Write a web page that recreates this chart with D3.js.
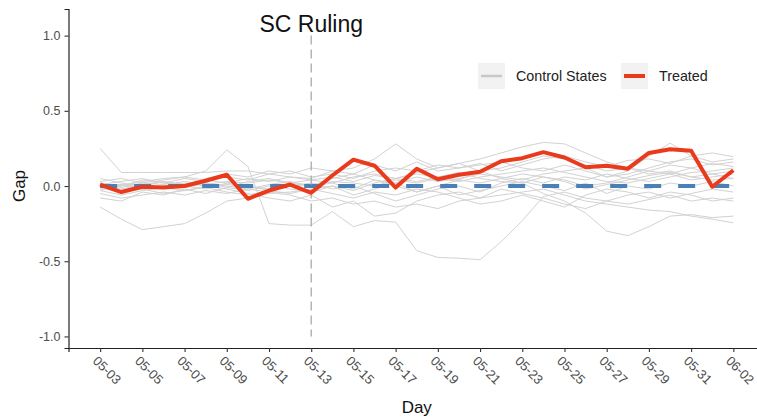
<!DOCTYPE html>
<html><head><meta charset="utf-8">
<script src="https://cdn.jsdelivr.net/npm/d3@7"></script>
<style>body{margin:0;background:#fff}svg{display:block;font-family:"Liberation Sans",Arial,Helvetica,sans-serif}</style>
</head><body>
<svg id="c" width="757" height="418"></svg>
<script>
const days = ["05-03","05-04","05-05","05-06","05-07","05-08","05-09","05-10","05-11","05-12","05-13","05-14","05-15","05-16","05-17","05-18","05-19","05-20","05-21","05-22","05-23","05-24","05-25","05-26","05-27","05-28","05-29","05-30","05-31","06-01","06-02"];
const xTickLabels = ["05-03","05-05","05-07","05-09","05-11","05-13","05-15","05-17","05-19","05-21","05-23","05-25","05-27","05-29","05-31","06-02"];
const yTicks = [-1.0,-0.5,0.0,0.5,1.0];
const rulingDay = "05-13";
const treated = [0.01,-0.04,-0.005,-0.01,0.0,0.035,0.075,-0.085,-0.03,0.01,-0.045,0.07,0.175,0.135,-0.01,0.115,0.045,0.075,0.095,0.165,0.185,0.225,0.19,0.125,0.135,0.115,0.22,0.245,0.235,-0.005,0.105];
const controlA = [-0.14,-0.22,-0.29,-0.27,-0.25,-0.18,-0.1,-0.08,-0.05,-0.04,-0.02,0.0,-0.03,0.02,0.05,0.03,0.06,0.04,0.02,0.05,0.08,0.06,0.03,-0.02,0.01,0.04,0.07,0.09,0.06,0.04,0.05];
const controlB = [-0.02,0.0,0.03,0.05,0.06,0.1,0.24,0.13,-0.25,-0.26,-0.26,-0.17,-0.27,-0.23,-0.24,-0.43,-0.475,-0.48,-0.49,-0.37,-0.23,-0.07,-0.04,-0.08,-0.1,-0.12,-0.09,-0.06,-0.1,-0.08,-0.1];
const controlC = [0.25,0.09,0.09,0.09,0.09,0.09,0.1,0.1,0.08,0.1,0.06,0.08,0.05,0.1,0.12,0.1,0.14,0.12,0.15,0.1,0.14,0.18,0.2,0.16,0.13,0.17,0.18,0.15,0.2,0.16,0.18];
const controlD = [0.0,-0.02,0.01,0.03,0.0,0.02,-0.01,0.03,0.05,0.02,0.04,0.06,0.03,0.07,0.05,0.08,0.06,0.09,0.05,0.03,0.02,-0.05,-0.1,-0.18,-0.3,-0.33,-0.27,-0.2,-0.19,-0.21,-0.2];
const controlE = [-0.05,-0.08,-0.06,-0.04,-0.06,-0.03,-0.05,-0.02,-0.04,-0.06,-0.1,-0.08,-0.12,-0.1,-0.14,-0.12,-0.15,-0.1,-0.08,-0.06,-0.04,-0.02,-0.06,-0.1,-0.12,-0.14,-0.16,-0.17,-0.2,-0.22,-0.245];
const controlF = [0.02,0.0,0.04,0.02,0.05,0.03,0.06,0.04,0.08,0.06,0.05,0.1,0.12,0.18,0.28,0.18,0.12,0.15,0.1,0.12,0.16,0.2,0.18,0.14,0.1,0.12,0.08,0.1,0.06,0.08,0.05];
const controlG = [0.03,0.05,0.02,0.04,0.06,0.04,0.02,0.05,0.03,0.06,0.04,0.02,0.06,0.08,0.05,0.09,0.12,0.15,0.18,0.22,0.26,0.29,0.28,0.22,0.16,0.12,0.1,0.14,0.12,0.15,0.13];
const controlH = [-0.03,0.01,-0.02,0.0,-0.01,0.02,0.0,-0.02,0.01,0.03,0.0,0.02,-0.02,0.04,0.02,0.06,0.03,0.05,0.08,0.06,0.04,0.08,0.1,0.12,0.06,0.1,0.2,0.285,0.2,0.22,0.195];
const controlI = [0.01,0.03,0.05,0.02,0.0,-0.02,0.02,0.0,-0.03,0.0,0.02,-0.02,0.0,-0.05,-0.1,-0.06,-0.02,0.0,-0.04,0.02,0.05,0.02,0.06,0.04,0.08,0.05,0.03,0.06,0.09,0.1,0.12];
const controlJ = [-0.01,-0.04,-0.02,-0.05,-0.03,0.0,-0.02,-0.05,-0.08,-0.1,-0.06,-0.14,-0.1,-0.2,-0.18,-0.1,-0.06,-0.04,-0.08,-0.02,-0.05,-0.08,-0.12,-0.15,-0.1,-0.06,-0.04,-0.08,-0.05,-0.02,-0.04];
const controlK = [0.05,0.02,0.0,0.03,0.01,0.05,0.08,0.06,0.1,0.08,0.12,0.1,0.08,0.14,0.1,0.16,0.1,0.12,0.14,0.16,0.12,0.1,0.14,0.1,0.06,0.08,0.12,0.16,0.18,0.14,0.16];
const controlL = [-0.08,-0.1,-0.04,-0.06,-0.02,-0.05,-0.01,-0.03,0.0,-0.02,-0.04,0.0,-0.06,-0.02,0.02,-0.04,0.0,-0.06,-0.03,0.0,0.03,0.0,-0.03,0.02,-0.05,0.0,-0.02,0.02,0.0,0.03,0.0];
const controlM = [0.0,0.01,-0.01,0.0,0.02,0.0,0.01,0.0,-0.02,0.0,0.01,0.03,0.02,0.0,0.04,0.02,0.05,0.03,0.06,0.08,0.1,0.12,0.09,0.06,0.03,0.02,0.05,0.08,0.04,0.06,0.08];
const controlN = [0.02,-0.01,0.02,0.01,0.03,0.01,0.03,0.02,0.04,0.02,0.0,0.05,0.08,0.04,0.0,-0.04,0.0,0.04,0.1,0.05,0.02,0.06,0.04,0.0,0.02,0.06,0.1,0.08,0.12,0.08,0.1];
const controlO = [-0.03,-0.06,-0.03,-0.01,-0.03,-0.01,-0.04,-0.06,-0.03,-0.05,-0.02,-0.05,-0.08,-0.04,-0.06,-0.02,-0.04,-0.08,-0.12,-0.1,-0.06,-0.1,-0.14,-0.06,-0.02,-0.04,-0.08,-0.04,-0.06,-0.1,-0.08];
const controls = [controlA,controlB,controlC,controlD,controlE,controlF,controlG,controlH,controlI,controlJ,controlK,controlL,controlM,controlN,controlO];

const svg = d3.select("#c");
const mLeft = 68.5, mBottom = 348, mTop = 9, mRight = 765;
const x = d3.scaleLinear().domain([-1.5, days.length - 1 + 1.5]).range([mLeft, mRight]);
const y = d3.scaleLinear().domain([-1.077, 1.177]).range([mBottom, mTop]);
const xi = d => days.indexOf(d);

const line = d3.line().x((d,i) => x(i)).y(d => y(d));

// control lines
svg.append("g").selectAll("path").data(controls).join("path")
  .attr("d", line).attr("fill","none").attr("stroke","#d2d2d2").attr("stroke-width",1);

// zero reference (dashed blue)
svg.append("path").attr("d", line(days.map(() => 0)))
  .attr("fill","none").attr("stroke","#4a80b8").attr("stroke-width",4)
  .attr("stroke-dasharray","17,17");

// ruling line
svg.append("line")
  .attr("x1", x(xi(rulingDay))).attr("x2", x(xi(rulingDay)))
  .attr("y1", y(1)).attr("y2", y(-1))
  .attr("stroke","#aaaaaa").attr("stroke-width",1.3).attr("stroke-dasharray","9,5");

// treated
svg.append("path").attr("d", line(treated))
  .attr("fill","none").attr("stroke","#ea3a1c").attr("stroke-width",4)
  .attr("stroke-linejoin","round");

svg.append("text").attr("x", x(xi(rulingDay))).attr("y", 32)
  .attr("text-anchor","middle").attr("font-size",23).attr("fill","#111").text("SC Ruling");

// axes
const yAxis = d3.axisLeft(y).tickValues(yTicks).tickFormat(d => d.toFixed(1)).tickSize(4).tickPadding(4);
const gy = svg.append("g").attr("transform",`translate(${mLeft},0)`).call(yAxis);
gy.select(".domain").attr("stroke","#222").attr("stroke-width",1.2);
gy.selectAll(".tick line").attr("stroke","#333").attr("stroke-width",1.1);
gy.selectAll(".tick text").attr("font-size",12.5).attr("fill","#4d4d4d").attr("font-family","Liberation Sans, Arial, sans-serif");

const xAxis = d3.axisBottom(x).tickValues(xTickLabels.map(xi)).tickFormat(i => days[i]).tickSize(4);
const gx = svg.append("g").attr("transform",`translate(0,${mBottom})`).call(xAxis);
gx.select(".domain").attr("stroke","#222").attr("stroke-width",1.2);
gx.selectAll(".tick line").attr("stroke","#333").attr("stroke-width",1.1);
gx.selectAll(".tick text").attr("font-size",13).attr("fill","#4d4d4d")
  .attr("font-family","Liberation Sans, Arial, sans-serif")
  .attr("text-anchor","start").attr("x",0).attr("y",0).attr("dy","0.72em")
  .attr("transform","translate(-2,7) rotate(45)");

svg.append("text").attr("x",(mLeft+mRight)/2).attr("y",413).attr("text-anchor","middle")
  .attr("font-size",17).attr("fill","#111").text("Day");
svg.append("text").attr("transform",`translate(25,${y(0)}) rotate(-90)`).attr("text-anchor","middle")
  .attr("font-size",17).attr("fill","#111").text("Gap");

// legend
const legendItems = [{label:"Control States", color:"#c8c8c8", w:2.5, kx:478, tx:516},
                     {label:"Treated", color:"#ea3a1c", w:4, kx:621, tx:659}];
const lg = svg.append("g");
legendItems.forEach(it => {
  lg.append("rect").attr("x",it.kx).attr("y",63).attr("width",27).attr("height",26).attr("fill","#f2f2f2");
  lg.append("line").attr("x1",it.kx+3).attr("x2",it.kx+24).attr("y1",76).attr("y2",76)
    .attr("stroke",it.color).attr("stroke-width",it.w);
  lg.append("text").attr("x",it.tx).attr("y",81).attr("font-size",14.3).attr("fill","#222").text(it.label);
});
</script>
</body></html>
